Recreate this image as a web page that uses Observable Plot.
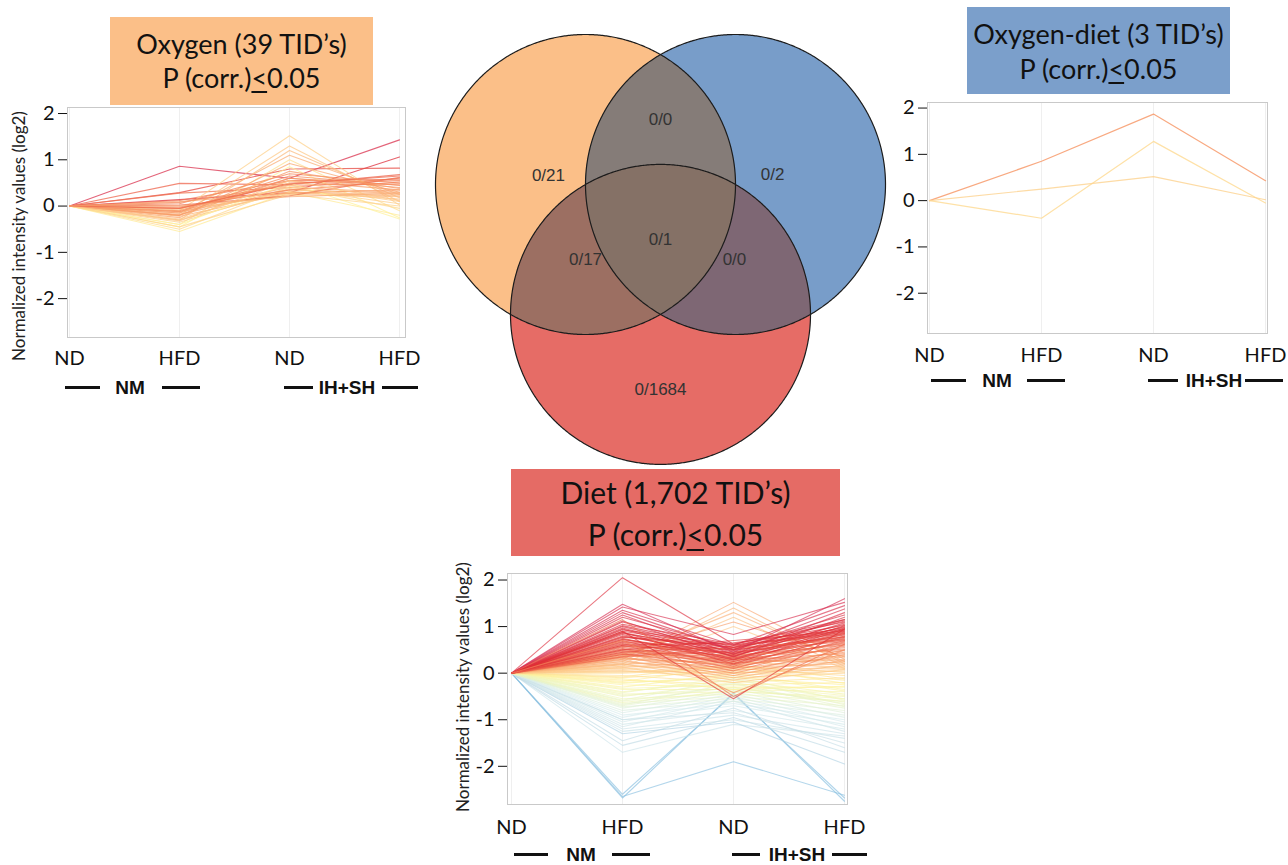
<!DOCTYPE html>
<html><head><meta charset="utf-8">
<script src="https://cdn.jsdelivr.net/npm/d3@7"></script>
<script src="https://cdn.jsdelivr.net/npm/@observablehq/plot@0.6"></script>
<style>
body{margin:0;background:#fff;}
#root{position:relative;width:1288px;height:865px;overflow:hidden;background:#fff;color:#111;}
.box{position:absolute;text-align:center;font-family:Lato,"Open Sans",sans-serif;color:#111;box-sizing:border-box;}
.box u{text-decoration-thickness:2px;text-underline-offset:3px;}
.panel{position:absolute;}
.grp{position:absolute;font-family:"Liberation Sans",Arial,sans-serif;font-weight:bold;font-size:19px;line-height:19px;transform:translate(-50%,-50%);white-space:nowrap;color:#111;}
.dash{position:absolute;height:3px;background:#111;}
.ylab{position:absolute;font-family:Lato,sans-serif;font-size:17px;line-height:17px;white-space:nowrap;transform:translate(-50%,-50%) rotate(-90deg);color:#222;}
</style></head>
<body><div id="root"></div>
<script>
// ---------------- DATA ----------------
const conditions = ["NM-ND", "NM-HFD", "IH+SH-ND", "IH+SH-HFD"];
const conditionLabels = ["ND", "HFD", "ND", "HFD"];
const groupLabels = ["NM", "IH+SH"];
const yTicks = [-2, -1, 0, 1, 2];
const yAxisTitle = "Normalized intensity values (log2)";

const panelTitles = {
  oxygen: ["Oxygen (39 TID’s)", "P (corr.)", "0.05"],
  oxygenDiet: ["Oxygen-diet (3 TID’s)", "P (corr.)", "0.05"],
  diet: ["Diet (1,702 TID’s)", "P (corr.)", "0.05"]
};

// normalized log2 intensities: [NM ND, NM HFD, IH+SH ND, IH+SH HFD]
const oxygenLines = [
  [0,0.86,0.60,1.43],[0,0.14,0.29,1.06],[0,0.29,0.80,0.82],[0,0.49,0.46,0.68],
  [0,0.28,0.40,0.60],[0,0.12,0.55,0.58],[0,-0.05,0.50,0.55],[0,-0.10,1.52,0.02],
  [0,-0.20,1.30,0.10],[0,-0.30,1.20,0.18],[0,-0.15,1.10,0.25],[0,-0.40,1.00,-0.10],
  [0,-0.25,0.92,0.30],[0,-0.45,0.85,-0.25],[0,0.05,0.70,0.50],[0,-0.10,0.65,0.45],
  [0,-0.20,0.60,0.40],[0,-0.15,0.55,0.35],[0,0.08,0.45,0.48],[0,-0.05,0.40,0.30],
  [0,-0.18,0.35,0.28],[0,-0.12,0.30,0.25],[0,-0.22,0.28,0.22],[0,-0.08,0.25,0.20],
  [0,-0.30,0.32,0.15],[0,-0.35,0.38,0.05],[0,-0.50,0.42,-0.05],[0,-0.55,0.30,-0.20],
  [0,-0.40,0.50,-0.28],[0,0.02,0.22,0.62],[0,-0.02,0.35,0.52],[0,0.10,0.28,0.35],
  [0,-0.28,0.45,0.10],[0,-0.45,0.25,0.00],[0,-0.12,0.60,0.45],[0,-0.20,0.75,0.38],
  [0,-0.32,0.55,0.12],[0,0.00,0.20,0.28],[0,-0.05,0.48,0.65]
];

const oxygenDietLines = [
  [0,0.85,1.87,0.43],
  [0,-0.38,1.28,-0.05],
  [0,0.25,0.52,0.02]
];

const dietLines = [
  // low / blue
  [0,-2.68,-0.42,-2.75],[0,-2.65,-1.90,-2.62],[0,-2.60,-0.45,-2.68],
  [0,-1.70,-1.10,-1.35],[0,-1.55,-0.95,-1.70],[0,-1.45,-0.75,-1.60],[0,-1.30,-1.05,-1.95],
  [0,-1.25,-1.00,-1.40],[0,-1.20,-0.90,-1.30],[0,-1.15,-0.60,-1.25],[0,-1.10,-0.80,-1.20],
  [0,-1.05,-0.55,-1.15],[0,-1.00,-0.70,-1.10],[0,-1.00,-0.85,-1.50],[0,-0.95,-0.50,-1.05],
  [0,-0.90,-0.65,-1.00],[0,-0.85,-0.45,-0.95],[0,-0.80,-0.60,-0.90],[0,-0.75,-0.40,-0.85],
  // middle / yellow
  [0,-0.72,-0.55,-0.80],[0,-0.70,-0.35,-0.75],[0,-0.65,-0.50,-0.70],[0,-0.60,-0.30,-0.65],
  [0,-0.55,-0.45,-0.60],[0,-0.50,-0.20,-0.55],[0,-0.45,-0.40,-0.50],[0,-0.40,-0.15,-0.45],
  [0,-0.35,-0.35,-0.40],[0,-0.30,0.00,-0.35],[0,-0.25,-0.30,-0.30],[0,-0.20,-0.10,-0.25],
  [0,-0.15,-0.25,-0.20],[0,-0.10,0.05,-0.15],[0,-0.05,-0.20,-0.10],[0,0.00,0.10,-0.05],
  [0,0.05,-0.10,0.00],
  [0,-0.12,-0.35,-0.28],[0,-0.22,-0.05,-0.38],[0,-0.33,-0.25,-0.48],[0,-0.42,-0.08,-0.58],
  [0,-0.48,-0.32,-0.62],[0,-0.58,-0.12,-0.68],[0,-0.63,-0.38,-0.55],[0,-0.68,-0.22,-0.72],
  [0,-0.18,0.15,-0.22],[0,-0.08,0.20,-0.12],
  // peaks at IH+SH ND
  [0,0.30,1.52,0.30],[0,0.25,1.40,0.20],[0,0.35,1.30,0.25],[0,0.20,1.20,0.15],
  [0,0.40,1.10,0.35],[0,0.15,1.00,0.10],
  // high / red
  [0,0.02,0.15,0.02],[0,0.08,0.25,0.12],[0,0.12,0.30,0.22],[0,0.18,0.35,0.26],[0,0.05,0.00,0.08],
  [0,0.10,-0.05,0.05],[0,0.12,-0.20,0.08],[0,0.15,0.08,0.10],[0,0.18,0.00,0.15],
  [0,0.20,-0.15,0.18],[0,0.22,0.12,0.20],[0,0.25,0.05,0.25],[0,0.28,-0.10,0.28],
  [0,0.30,0.22,0.30],[0,0.32,0.10,0.35],[0,0.35,-0.05,0.40],[0,0.38,0.28,0.42],
  [0,0.40,0.15,0.45],[0,0.42,0.00,0.50],[0,0.45,0.30,0.52],[0,0.48,0.20,0.55],
  [0,0.50,0.38,0.60],[0,0.52,0.05,0.62],[0,0.55,0.25,0.65],[0,0.58,0.45,0.68],
  [0,0.60,0.10,0.70],[0,0.62,0.35,0.72],[0,0.65,0.30,0.75],[0,0.68,0.50,0.78],
  [0,0.70,0.15,0.80],[0,0.72,0.42,0.82],[0,0.75,0.25,0.85],[0,0.78,0.60,0.88],
  [0,0.80,0.38,0.90],[0,0.85,0.48,0.92],[0,0.88,0.20,0.95],[0,0.90,0.55,0.98],
  [0,0.95,0.30,1.02],[0,1.00,0.45,1.05],[0,1.05,0.62,1.10],[0,1.10,0.50,1.15],
  [0,0.33,0.18,0.38],[0,0.37,0.40,0.48],[0,0.43,0.12,0.58],[0,0.47,0.33,0.63],
  [0,0.53,0.22,0.67],[0,0.57,0.52,0.73],[0,0.63,0.18,0.77],[0,0.67,0.40,0.83],
  [0,0.73,0.32,0.87],[0,0.77,0.55,0.93],[0,0.83,0.28,0.97],[0,0.87,0.42,1.00],
  [0,0.93,0.60,1.03],[0,0.97,0.36,1.08],[0,1.02,0.52,1.12],[0,0.60,0.65,0.95],
  [0,0.50,0.70,0.90],[0,0.45,0.58,0.85],[0,0.40,0.45,0.78],[0,0.35,0.55,0.70],
  [0,1.12,0.35,1.20],[0,1.20,0.55,1.25],[0,1.25,0.40,1.30],[0,1.30,0.50,1.38],
  [0,1.35,0.60,1.45],[0,1.42,0.83,1.52],[0,1.48,0.45,1.60],[0,2.05,0.62,1.15],
  [0,1.15,-0.50,0.62],[0,0.90,-0.55,0.95],[0,0.70,-0.42,0.50]
];

// Venn diagram (3 equal sets, unit radius, centres one radius apart)
const vennSets = ["Oxygen", "Oxygen-diet", "Diet"];
const vennCircles = [
  {set: "Oxygen", cx: -0.5, cy: 0, r: 1},
  {set: "Oxygen-diet", cx: 0.5, cy: 0, r: 1},
  {set: "Diet", cx: 0, cy: -0.866, r: 1}
];
const vennCounts = [
  {sets: ["Oxygen"], label: "0/21", ax: -0.747, ay: 0.06},
  {sets: ["Oxygen-diet"], label: "0/2", ax: 0.747, ay: 0.067},
  {sets: ["Oxygen", "Oxygen-diet"], label: "0/0", ax: 0, ay: 0.433},
  {sets: ["Oxygen", "Oxygen-diet", "Diet"], label: "0/1", ax: 0, ay: -0.367},
  {sets: ["Oxygen", "Diet"], label: "0/17", ax: -0.5, ay: -0.5},
  {sets: ["Oxygen-diet", "Diet"], label: "0/0", ax: 0.493, ay: -0.5},
  {sets: ["Diet"], label: "0/1684", ax: 0, ay: -1.367}
];

// ---------------- STYLES ----------------
const vennFill = {
  "Oxygen": "#FBBF88", "Oxygen-diet": "#789DC9", "Diet": "#E66C66",
  "Oxygen|Oxygen-diet": "#857C78", "Oxygen|Diet": "#9C6F62",
  "Oxygen-diet|Diet": "#7E6774", "Oxygen|Oxygen-diet|Diet": "#857166"
};
const colorStops = [-2.7, -1.6, -1.0, -0.6, -0.25, 0.1, 0.5, 0.95, 1.5];
const colorRange = ["#86bedf", "#c4dde6", "#d6ebec", "#eef6bd", "#fff19a", "#fdc98a", "#f5875a", "#e02f36", "#d8304f"];

const root = document.getElementById("root");

function addEl(cls, css, html) {
  const d = document.createElement("div");
  d.className = cls;
  Object.assign(d.style, css);
  if (html != null) d.innerHTML = html;
  root.appendChild(d);
  return d;
}

function titleBox(t, left, top, w, h, bg, fs, lh) {
  addEl("box", {left: left + "px", top: top + "px", width: w + "px", height: h + "px", background: bg,
    fontSize: fs + "px", lineHeight: lh + "px", paddingTop: ((h - 2 * lh) / 2) + "px"},
    `${t[0]}<br>${t[1]}<u>&lt;</u>${t[2]}`);
}

function linePanel(lines, o) {
  const rows = lines.flatMap((v, i) => v.map((val, j) => ({id: i, cond: conditions[j], value: val, end: v[v.length - 1]})));
  const svg = Plot.plot({
    width: o.width, height: o.height,
    marginLeft: o.ml, marginRight: o.mr, marginTop: o.mt, marginBottom: o.mb,
    style: {fontFamily: "Lato, 'Open Sans', sans-serif", fontSize: "20px", color: "#111", background: "transparent", overflow: "visible"},
    x: {type: "point", domain: conditions, padding: 0, insetLeft: o.il, insetRight: o.ir,
        tickSize: 0, tickPadding: o.xpad, tickFormat: d => conditionLabels[conditions.indexOf(d)], label: null},
    y: {domain: o.yDomain, ticks: yTicks, tickSize: 9, tickPadding: 4, tickFormat: d => String(d), label: null},
    color: {type: "linear", domain: colorStops, range: colorRange},
    marks: [
      Plot.ruleX(conditions, {stroke: "#efefef"}),
      Plot.frame({stroke: "#c9c9c9"}),
      Plot.lineY(rows, {x: "cond", y: "value", z: "id", stroke: "end", strokeWidth: o.sw, strokeOpacity: o.so})
    ]
  });
  const wrap = addEl("panel", {left: o.left + "px", top: o.top + "px"});
  wrap.appendChild(svg);
}

function groupRow(cx1, d1, cx2, d2, y) {
  addEl("grp", {left: cx1 + "px", top: y + "px"}, groupLabels[0]);
  addEl("grp", {left: cx2 + "px", top: y + "px"}, groupLabels[1]);
  for (const [a, b] of [...d1, ...d2]) addEl("dash", {left: a + "px", top: (y - 1.5) + "px", width: (b - a) + "px"});
}

// ---------------- PANELS ----------------
titleBox(panelTitles.oxygen, 110, 17, 263, 88, "#FBBF88", 27, 34);
titleBox(panelTitles.oxygenDiet, 967, 7, 263, 87, "#7B9FCB", 27, 35);
titleBox(panelTitles.diet, 511, 469, 329, 87, "#E56B65", 30, 42);

linePanel(oxygenLines, {left: 0, top: 100, width: 420, height: 300, ml: 67, mr: 15, mt: 7, mb: 63,
  il: 1, ir: 5, xpad: 13, yDomain: [-2.84, 2.13], sw: 1.1, so: 0.75});
linePanel(oxygenDietLines, {left: 860, top: 95, width: 428, height: 305, ml: 67, mr: 21, mt: 7, mb: 67,
  il: 1, ir: 2, xpad: 14, yDomain: [-2.87, 2.12], sw: 1.2, so: 0.8});
linePanel(dietLines, {left: 440, top: 566, width: 420, height: 299, ml: 67, mr: 13, mt: 7, mb: 61,
  il: 4, ir: 3, xpad: 15, yDomain: [-2.82, 2.14], sw: 1.1, so: 0.65});

addEl("ylab", {left: "18px", top: "236px"}, yAxisTitle);
addEl("ylab", {left: "462px", top: "687px"}, yAxisTitle);

groupRow(130, [[65, 100], [162, 200]], 347, [[284, 313], [382, 418]], 387);
groupRow(997, [[931, 966], [1027, 1065]], 1214, [[1148, 1178], [1245, 1283]], 380);
groupRow(581, [[514, 548], [612, 650]], 797, [[732, 760], [832, 867]], 854);

// ---------------- VENN ----------------
function circlePts(c, n = 720) {
  return d3.range(n).map(k => {
    const t = 2 * Math.PI * k / n;
    return {x: c.cx + c.r * Math.cos(t), y: c.cy + c.r * Math.sin(t)};
  });
}
const inside = (p, c) => (p.x - c.cx) ** 2 + (p.y - c.cy) ** 2 <= c.r * c.r + 1e-9;
function intersectionPoly(circles) {
  const pts = circles.flatMap((c, i) => circlePts(c).filter(p => circles.every((o, k) => k === i || inside(p, o))));
  const mx = d3.mean(pts, p => p.x), my = d3.mean(pts, p => p.y);
  return pts.sort((a, b) => Math.atan2(a.y - my, a.x - mx) - Math.atan2(b.y - my, b.x - mx));
}
const bySet = Object.fromEntries(vennCircles.map(c => [c.set, c]));
const fillOrder = [["Oxygen"], ["Oxygen-diet"], ["Diet"], ["Oxygen", "Oxygen-diet"], ["Oxygen", "Diet"], ["Oxygen-diet", "Diet"], ["Oxygen", "Oxygen-diet", "Diet"]];
const vW = 470, vH = 450, ppu = 150, vcx = 235, vcy = 159;
const venn = Plot.plot({
  width: vW, height: vH, margin: 0,
  style: {background: "transparent", overflow: "visible"},
  x: {domain: [-vcx / ppu, (vW - vcx) / ppu], axis: null},
  y: {domain: [-(vH - vcy) / ppu, vcy / ppu], axis: null},
  marks: [
    ...fillOrder.map(s => Plot.line(intersectionPoly(s.map(k => bySet[k])), {x: "x", y: "y", fill: vennFill[s.join("|")], stroke: "none", curve: "linear-closed"})),
    ...vennCircles.map(c => Plot.line(circlePts(c), {x: "x", y: "y", stroke: "#1c1c1c", strokeWidth: 1.2, curve: "linear-closed"})),
    Plot.text(vennCounts, {x: "ax", y: "ay", text: "label", fontSize: 17, fontFamily: "'Liberation Sans', Arial, sans-serif", fill: "#333"})
  ]
});
const vw = addEl("panel", {left: "425px", top: "25px"});
vw.appendChild(venn);
</script>
</body></html>
